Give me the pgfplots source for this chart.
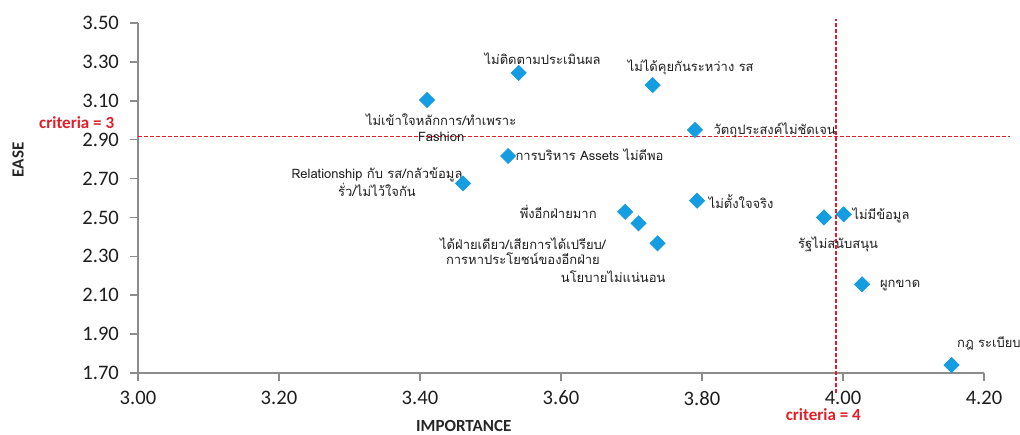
\documentclass[border=0pt]{standalone}
\usepackage{pgfplots}
\pgfplotsset{compat=1.18}
\usepackage{fontspec}
\setmainfont{Carlito}
\newfontfamily\thai[Script=Thai]{Loma}
\definecolor{ptblue}{RGB}{20,158,225}
\definecolor{critred}{RGB}{225,30,40}
\definecolor{axgray}{RGB}{140,140,140}
\definecolor{txt}{RGB}{30,30,30}
\begin{document}
\begin{tikzpicture}
\begin{axis}[
  at={(0pt,0pt)}, anchor=south west,
  scale only axis, width=423pt, height=175pt,
  xmin=3, xmax=4.2, ymin=1.7, ymax=3.5,
  axis x line=bottom, axis y line=left,
  axis line style={draw=axgray, line width=0.9pt, -},
  tick align=outside, major tick length=4pt,
  tick style={draw=axgray, line width=0.8pt},
  xtick={3,3.2,3.4,3.6,3.8,4.0,4.2},
  ytick={1.7,1.9,2.1,2.3,2.5,2.7,2.9,3.1,3.3,3.5},
  /pgf/number format/.cd, fixed, fixed zerofill, precision=2, assume math mode=true,
  /pgfplots/.cd,
  ticklabel style={font=\fontsize{10.3}{12}\selectfont, text=txt},
  yticklabel style={xshift=-2pt},
  xticklabel style={yshift=-1.5pt},
  xlabel={IMPORTANCE}, ylabel={EASE},
  label style={font=\fontsize{8.5}{10}\selectfont\bfseries, text=black!85},
  xlabel style={at={(axis description cs:0.385,-0.150)}, anchor=center, inner sep=0pt},
  ylabel style={at={(axis description cs:-0.1418,0.6086)}, anchor=center},
  clip=false,
]
\addplot[only marks, mark=square*, mark size=2.65pt, mark options={rotate=45, fill=ptblue, draw=ptblue}]
coordinates {
(3.540,3.243)
(3.730,3.181)
(3.410,3.104)
(3.790,2.950)
(3.525,2.816)
(3.461,2.675)
(3.691,2.529)
(3.710,2.470)
(3.737,2.367)
(3.793,2.586)
(3.973,2.500)
(4.001,2.516)
(4.027,2.156)
(4.154,1.741)
};
\addplot[critred, line width=0.7pt, dash pattern=on 2pt off 1pt, forget plot] coordinates {(3,2.915) (4.237,2.915)};
\addplot[critred, line width=0.7pt, dash pattern=on 2pt off 1pt, forget plot] coordinates {(3.99,1.597) (3.99,3.52)};
\begin{scope}[every node/.style={font=\thai\fontsize{6.5}{7.6}\selectfont, text=txt, inner sep=0pt}]
\node at (axis cs:3.574,3.315) {ไม่ติดตามประเมินผล};
\node at (axis cs:3.784,3.274) {ไม่ได้คุยกันระหว่าง  รส};
\node[align=center] at (axis cs:3.430,2.962) {ไม่เข้าใจหลักการ/ทำเพราะ\\Fashion};
\node[anchor=west] at (axis cs:3.535,2.821) {การบริหาร  Assets ไม่ดีพอ};
\node[align=center] at (axis cs:3.339,2.682) {Relationship  กับ รส/กลัวข้อมูล\\รั่ว/ไม่ไว้ใจกัน};
\node at (axis cs:3.596,2.528) {พึ่งอีกฝ่ายมาก};
\node[align=center] at (axis cs:3.546,2.327) {ได้ฝ่ายเดียว/เสียการได้เปรียบ/\\การหาประโยชน์ของอีกฝ่าย};
\node at (axis cs:3.674,2.193) {นโยบายไม่แน่นอน};
\node[anchor=west] at (axis cs:3.809,2.579) {ไม่ตั้งใจจริง};
\node[anchor=west] at (axis cs:4.013,2.512) {ไม่มีข้อมูล};
\node at (axis cs:3.993,2.363) {รัฐไม่สนับสนุน};
\node[anchor=west] at (axis cs:4.052,2.152) {ผูกขาด};
\node at (axis cs:4.207,1.854) {กฎ  ระเบียบ};
\node[anchor=west] at (axis cs:3.816,2.950) {วัตถุประสงค์ไม่ชัดเจน};
\end{scope}
\node[font=\fontsize{8.5}{10}\selectfont\bfseries, text=critred, inner sep=0pt] at (axis cs:2.913,2.988) {criteria = 3};
\node[font=\fontsize{8.5}{10}\selectfont\bfseries, text=critred, inner sep=0pt] at (axis cs:3.972,1.486) {criteria = 4};
\end{axis}
\pgfresetboundingbox
\path[use as bounding box] (-69pt,-30.5pt) rectangle (441pt,186.5pt);
\end{tikzpicture}
\end{document}
